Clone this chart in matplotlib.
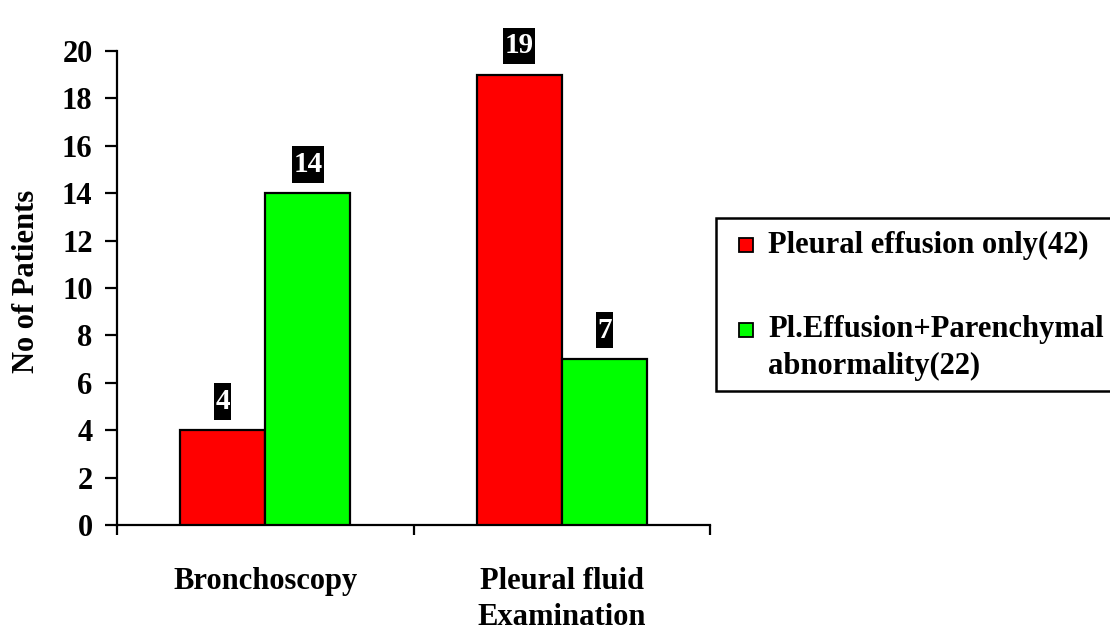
import matplotlib
matplotlib.use("Agg")
import matplotlib.pyplot as plt
from matplotlib.patches import Rectangle
from matplotlib.path import Path
import numpy as np

categories = ["Bronchoscopy", "Pleural fluid\nExamination"]
series_names = ["Pleural effusion only(42)", "Pl.Effusion+Parenchymal\nabnormality(22)"]
effusion_only = [4, 19]
effusion_parenchymal = [14, 7]
colors = ["#ff0000", "#00ff00"]
y_ticks = list(range(0, 21, 2))

plt.rcParams["font.family"] = ["Liberation Serif", "DejaVu Serif"]
plt.rcParams["font.weight"] = "bold"

FIG_W, FIG_H = 1110, 633
fig = plt.figure(figsize=(FIG_W / 100, FIG_H / 100), dpi=100)
ax = fig.add_axes([117 / FIG_W, 1 - 525 / FIG_H, (710 - 117) / FIG_W, (525 - 51) / FIG_H])


def tall_box(x0, y0, width, height, mutation_size):
    """Rectangle with a thin horizontal pad and a taller vertical pad."""
    px = 0.04 * mutation_size
    py = 0.16 * mutation_size
    x1, y1 = x0 - px, y0 - py
    x2, y2 = x0 + width + px, y0 + height + py
    verts = [(x1, y1), (x2, y1), (x2, y2), (x1, y2), (x1, y1)]
    codes = [Path.MOVETO, Path.LINETO, Path.LINETO, Path.LINETO, Path.CLOSEPOLY]
    return Path(verts, codes)


x = np.arange(len(categories))
w = 0.287
series = [effusion_only, effusion_parenchymal]
for i, (vals, col) in enumerate(zip(series, colors)):
    bars = ax.bar(x + (i - 0.5) * w, vals, w, color=col, edgecolor="black",
                  linewidth=1.6, zorder=3)
    for rect, v in zip(bars, vals):
        ax.annotate(str(v), (rect.get_x() + rect.get_width() / 2, v),
                    xytext=(0, 11), textcoords="offset points",
                    ha="center", va="bottom", color="white", fontsize=21,
                    fontweight="bold",
                    bbox=dict(boxstyle=tall_box, facecolor="black", edgecolor="none"))

ax.set_xlim(-0.5, 1.5)
ax.set_ylim(0, 20)
ax.set_yticks(y_ticks)
ax.set_yticklabels([str(t) for t in y_ticks], fontsize=22, fontweight="bold")
ax.tick_params(axis="y", direction="out", length=8.6, width=1.6, pad=9)

# category boundaries carry the x ticks; names sit centred beneath each group
ax.set_xticks([-0.5, 0.5, 1.5])
ax.set_xticklabels([])
ax.tick_params(axis="x", direction="out", length=7, width=1.6)
for xi, name in zip(x, categories):
    ax.annotate(name, (xi, 0), xytext=(0, -30), textcoords="offset points",
                ha="center", va="top", fontsize=22, fontweight="bold",
                linespacing=1.32, annotation_clip=False)

for s in ["top", "right"]:
    ax.spines[s].set_visible(False)
for s in ["left", "bottom"]:
    ax.spines[s].set_linewidth(1.6)

ax.set_ylabel("No of Patients", fontsize=22, fontweight="bold")
ax.yaxis.set_label_coords(-0.128, 0.515)

# legend box, partly running past the right edge of the figure
def fx(px):
    return px / FIG_W


def fy(py):
    return 1 - py / FIG_H


fig.patches.append(Rectangle((fx(716), fy(391)), fx(1130) - fx(716), fy(218) - fy(391),
                             transform=fig.transFigure, facecolor="white",
                             edgecolor="black", linewidth=1.8))
legend_rows = [245, 330]
legend_text_y = [245, 348]
for name, col, ry, ty in zip(series_names, colors, legend_rows, legend_text_y):
    fig.patches.append(Rectangle((fx(739), fy(ry + 7)), fx(753) - fx(739), fy(ry - 7) - fy(ry + 7),
                                 transform=fig.transFigure, facecolor=col,
                                 edgecolor="black", linewidth=1.3))
    fig.text(fx(768), fy(ty), name, ha="left", va="center", fontsize=22,
             fontweight="bold", linespacing=1.36)

fig.savefig("out.png", dpi=100)
